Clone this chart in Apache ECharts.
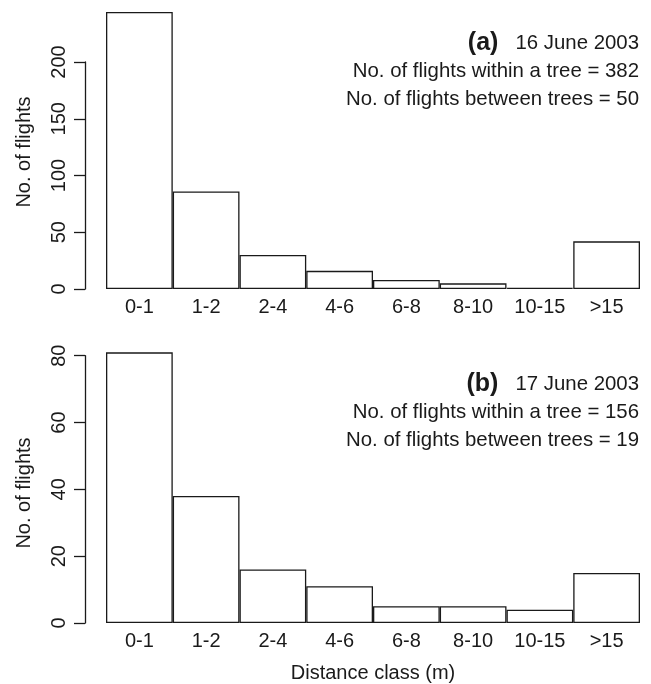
<!DOCTYPE html>
<html>
<head>
<meta charset="utf-8">
<script src="https://cdn.jsdelivr.net/npm/echarts@6/dist/echarts.min.js"></script>
<style>
  html, body { margin: 0; padding: 0; background: #fff; }
  #chart { width: 651px; height: 684px; }
</style>
</head>
<body>
<div id="chart"></div>
<script>
const categories = ["0-1", "1-2", "2-4", "4-6", "6-8", "8-10", "10-15", ">15"];
const flightsJune16 = [244, 86, 30, 16, 8, 5, 1, 42];
const flightsJune17 = [81, 38, 16, 11, 5, 5, 4, 15];
const yTicksTop = { max: 200, interval: 50 };
const yTicksBottom = { max: 80, interval: 20 };
const notesTop = ["(a)", "16 June 2003", "No. of flights within a tree = 382", "No. of flights between trees = 50"];
const notesBottom = ["(b)", "17 June 2003", "No. of flights within a tree = 156", "No. of flights between trees = 19"];

const ink = "#1a1a1a";
const font = "Liberation Sans, Arial, Helvetica, sans-serif";
const chart = echarts.init(document.getElementById("chart"));

const xAxisFor = (gridIndex, withName) => ({
  type: "category",
  gridIndex,
  data: categories,
  axisLine: { show: false },
  axisTick: { show: false },
  axisLabel: { color: ink, fontSize: 20, fontFamily: font, margin: 8 },
  name: withName ? "Distance class (m)" : "",
  nameLocation: "middle",
  nameGap: 40,
  nameTextStyle: { color: ink, fontSize: 20, fontFamily: font },
});

const yAxisFor = (gridIndex, ticks) => ({
  type: "value",
  gridIndex,
  min: 0,
  max: ticks.max,
  interval: ticks.interval,
  offset: 21,
  axisLine: { show: true, lineStyle: { color: ink, width: 1.3 } },
  axisTick: { show: true, inside: false, length: 11, lineStyle: { color: ink, width: 1.3 } },
  axisLabel: { color: ink, fontSize: 20, fontFamily: font, rotate: 90, margin: 16 },
  splitLine: { show: false },
});

const barSeries = (index, data) => ({
  type: "bar",
  xAxisIndex: index,
  yAxisIndex: index,
  data,
  clip: false,
  barCategoryGap: "0%",
  itemStyle: { color: "#fff", borderColor: ink, borderWidth: 1.3 },
  silent: true,
});

const noteFont = "20.4px " + font;
const noteBlock = (lines, top) => [
  {
    type: "text", right: 12, top: top,
    style: {
      text: "{b|" + lines[0] + "}   " + lines[1],
      fill: ink, font: noteFont, textAlign: "right",
      rich: { b: { fontSize: 25, fontWeight: "bold", fontFamily: font, fill: ink } },
    },
  },
  { type: "text", right: 12, top: top + 30, style: { text: lines[2], fill: ink, font: noteFont } },
  { type: "text", right: 12, top: top + 58, style: { text: lines[3], fill: ink, font: noteFont } },
];

const yTitle = (cy) => ({
  type: "text", x: 24, y: cy, rotation: Math.PI / 2,
  style: { text: "No. of flights", fill: ink, font: "20px " + font, textAlign: "center", textVerticalAlign: "middle" },
});

chart.setOption({
  animation: false,
  grid: [
    { left: 106, right: 11, top: 62, height: 227 },
    { left: 106, right: 11, top: 355.7, height: 273.6 },
  ],
  xAxis: [xAxisFor(0, false), xAxisFor(1, true)],
  yAxis: [yAxisFor(0, yTicksTop), yAxisFor(1, yTicksBottom)],
  series: [barSeries(0, flightsJune16), barSeries(1, flightsJune17)],
  graphic: [
    yTitle(152),
    yTitle(493),
    ...noteBlock(notesTop, 31),
    ...noteBlock(notesBottom, 372),
  ],
});
</script>
</body>
</html>
